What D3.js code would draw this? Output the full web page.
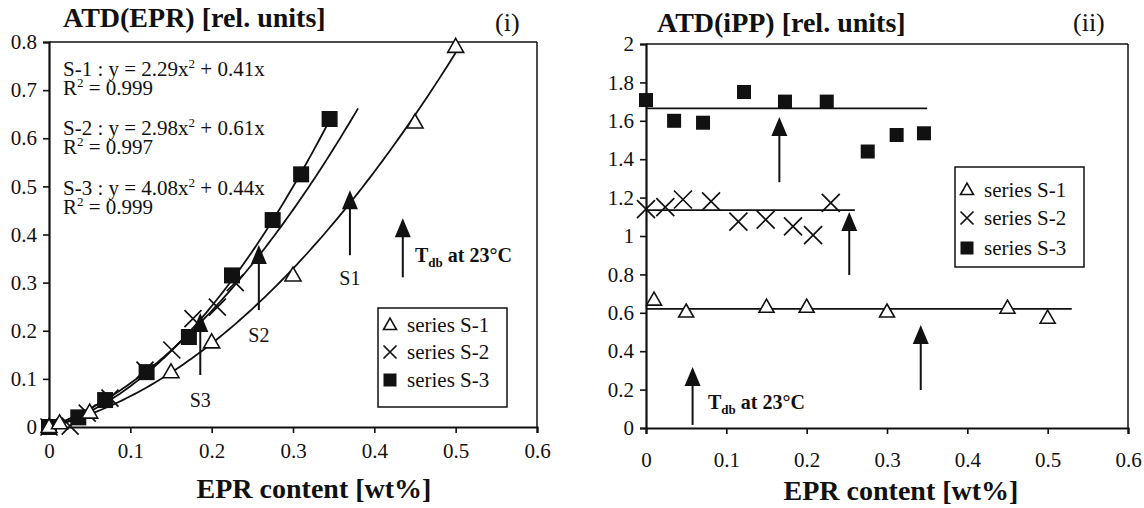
<!DOCTYPE html>
<html>
<head>
<meta charset="utf-8">
<script src="https://cdn.jsdelivr.net/npm/d3@7"></script>
<style>
  html, body { margin: 0; padding: 0; background: #fff; }
  svg { display: block; }
  text { font-family: "Liberation Serif", "Times New Roman", Times, "DejaVu Serif", "Noto Serif", serif; fill: #111; }
</style>
</head>
<body>
<svg id="chart" width="1144" height="508"></svg>
<script>
// ---------- panel (i): ATD(EPR) vs EPR content ----------
const epr_s1_x = [0, 0.013, 0.05, 0.15, 0.2, 0.3, 0.45, 0.5];
const epr_s1_y = [0, 0.008, 0.03, 0.114, 0.176, 0.315, 0.633, 0.79];
const epr_s2_x = [0, 0.026, 0.047, 0.075, 0.118, 0.151, 0.177, 0.207, 0.229];
const epr_s2_y = [0, 0.002, 0.029, 0.06, 0.118, 0.16, 0.225, 0.249, 0.3];
const epr_s3_x = [0, 0.036, 0.069, 0.12, 0.172, 0.225, 0.275, 0.31, 0.345];
const epr_s3_y = [0, 0.02, 0.056, 0.114, 0.187, 0.315, 0.43, 0.525, 0.64];

// quadratic fits y = a x^2 + b x, and the x-range each trend line covers
const fitNames = ["S-1", "S-2", "S-3"];
const fitA = [2.29, 2.98, 4.08];
const fitB = [0.41, 0.61, 0.44];
const fitR2 = ["0.999", "0.997", "0.999"];
const fitXmax = [0.5, 0.38, 0.345];

// T_db arrows in panel (i)
const eprArrowLabel = ["S1", "S2", "S3"];
const eprArrowX = [0.37, 0.258, 0.186];
const eprArrowTip = [0.492, 0.378, 0.237];
const eprArrowTail = [0.357, 0.243, 0.108];
const eprArrowLabelY = [0.309, 0.191, 0.056];

// ---------- panel (ii): ATD(iPP) vs EPR content ----------
const ipp_s1_x = [0.01, 0.05, 0.15, 0.2, 0.3, 0.45, 0.5];
const ipp_s1_y = [0.667, 0.605, 0.63, 0.63, 0.605, 0.625, 0.573];
const ipp_s2_x = [0, 0.024, 0.046, 0.081, 0.115, 0.149, 0.183, 0.208, 0.23];
const ipp_s2_y = [1.14, 1.15, 1.19, 1.18, 1.075, 1.085, 1.05, 1.005, 1.172];
const ipp_s3_x = [0, 0.035, 0.071, 0.122, 0.173, 0.225, 0.276, 0.312, 0.346];
const ipp_s3_y = [1.708, 1.6, 1.59, 1.75, 1.7, 1.7, 1.44, 1.526, 1.535];

// mean levels and their x-extents
const ippMean = [0.62, 1.135, 1.665];
const ippMeanXmax = [0.53, 0.26, 0.35];

// T_db arrows in panel (ii)
const ippArrowX = [0.342, 0.253, 0.166];
const ippArrowTip = [0.536, 1.125, 1.62];
const ippArrowTail = [0.198, 0.797, 1.28];

// axes
const xTicks = [0, 0.1, 0.2, 0.3, 0.4, 0.5, 0.6];
const xTickLabels = ["0", "0.1", "0.2", "0.3", "0.4", "0.5", "0.6"];
const eprYTicks = [0, 0.1, 0.2, 0.3, 0.4, 0.5, 0.6, 0.7, 0.8];
const eprYTickLabels = ["0", "0.1", "0.2", "0.3", "0.4", "0.5", "0.6", "0.7", "0.8"];
const ippYTicks = [0, 0.2, 0.4, 0.6, 0.8, 1, 1.2, 1.4, 1.6, 1.8, 2];
const ippYTickLabels = ["0", "0.2", "0.4", "0.6", "0.8", "1", "1.2", "1.4", "1.6", "1.8", "2"];
const legendLabels = ["series S-1", "series S-2", "series S-3"];

const FONT = '"Liberation Serif", "Times New Roman", Times, "DejaVu Serif", "Noto Serif", serif';
const svg = d3.select("#chart");
svg.append("rect").attr("width", 1144).attr("height", 508).attr("fill", "#fff");

const INK = "#111";

// ---------- marker helpers ----------
function openTriangle(g, cx, cy, w) {
  const h = w * 0.87;
  g.append("path")
    .attr("d", `M${cx},${cy - h * 0.6} L${cx + w / 2},${cy + h * 0.4} L${cx - w / 2},${cy + h * 0.4} Z`)
    .attr("fill", "#fff").attr("stroke", INK).attr("stroke-width", 1.6);
}
function cross(g, cx, cy, s) {
  g.append("path")
    .attr("d", `M${cx - s},${cy - s} L${cx + s},${cy + s} M${cx - s},${cy + s} L${cx + s},${cy - s}`)
    .attr("stroke", INK).attr("stroke-width", 1.7).attr("fill", "none");
}
function square(g, cx, cy, s) {
  g.append("rect").attr("x", cx - s / 2).attr("y", cy - s / 2)
    .attr("width", s).attr("height", s).attr("fill", INK);
}
function arrow(g, x, yTip, yTail) {
  g.append("line").attr("x1", x).attr("x2", x).attr("y1", yTip + 10).attr("y2", yTail)
    .attr("stroke", INK).attr("stroke-width", 2);
  g.append("path")
    .attr("d", `M${x},${yTip} L${x + 8},${yTip + 19} L${x - 8},${yTip + 19} Z`)
    .attr("fill", INK);
}
function tdbLabel(g, x, y) {
  const t = g.append("text").attr("x", x).attr("y", y)
    .attr("font-size", 20).attr("font-weight", "bold");
  t.append("tspan").text("T");
  t.append("tspan").attr("font-size", 13).attr("dy", 5).text("db");
  t.append("tspan").attr("dy", -5).text(" at 23°C");
}

// ---------- frame + axes ----------
function frame(g, x, y, yTicks, yLabels, xLabelY, tickFont) {
  const [x0, x1] = x.range();
  const [y0, y1] = y.range();
  g.append("line").attr("x1", x0).attr("x2", x1).attr("y1", y1).attr("y2", y1)
    .attr("stroke", INK).attr("stroke-width", 1.5);
  g.append("line").attr("x1", x1).attr("x2", x1).attr("y1", y1).attr("y2", y0)
    .attr("stroke", INK).attr("stroke-width", 1.5);

  const ya = g.append("g").attr("transform", `translate(${x0},0)`)
    .call(d3.axisLeft(y).tickValues(yTicks).tickSize(6).tickPadding(6)
      .tickFormat((d, i) => yLabels[i]));
  const xa = g.append("g").attr("transform", `translate(0,${y0})`)
    .call(d3.axisBottom(x).tickValues(xTicks).tickSize(6).tickPadding(xLabelY)
      .tickFormat((d, i) => xTickLabels[i]));
  [ya, xa].forEach(a => {
    a.attr("font-family", FONT);
    a.select(".domain").attr("stroke", INK).attr("stroke-width", 2.2);
    a.selectAll(".tick line").attr("stroke", INK).attr("stroke-width", 1.6);
    a.selectAll(".tick text").attr("font-family", FONT)
      .attr("font-size", tickFont).attr("fill", INK);
  });
}

// =====================================================================
// Panel (i)
// =====================================================================
const g1 = svg.append("g");
const x1 = d3.scaleLinear().domain([0, 0.6]).range([49, 537]);
const y1 = d3.scaleLinear().domain([0, 0.8]).range([427, 42]);
frame(g1, x1, y1, eprYTicks, eprYTickLabels, 10, 21);

g1.append("text").attr("x", 63).attr("y", 27).attr("font-size", 28).attr("font-weight", "bold")
  .text("ATD(EPR) [rel. units]");
g1.append("text").attr("x", 495).attr("y", 31).attr("font-size", 26).text("(i)");
g1.append("text").attr("x", 314).attr("y", 498).attr("text-anchor", "middle")
  .attr("font-size", 28).attr("font-weight", "bold").text("EPR content [wt%]");

// fit equations
const eqBase = [[76, 95], [135, 154], [195, 214]];
fitNames.forEach((n, i) => {
  const t = g1.append("text").attr("x", 63).attr("y", eqBase[i][0]).attr("font-size", 21);
  t.append("tspan").text(`${n} : y = ${fitA[i].toFixed(2)}x`);
  t.append("tspan").attr("font-size", 13).attr("dy", -8).text("2");
  t.append("tspan").attr("dy", 8).text(` + ${fitB[i].toFixed(2)}x`);
  const r = g1.append("text").attr("x", 63).attr("y", eqBase[i][1]).attr("font-size", 21);
  r.append("tspan").text("R");
  r.append("tspan").attr("font-size", 13).attr("dy", -8).text("2");
  r.append("tspan").attr("dy", 8).text(` = ${fitR2[i]}`);
});

// trend curves
const curve = d3.line().x(d => x1(d[0])).y(d => y1(d[1]));
fitA.forEach((a, i) => {
  const pts = d3.range(0, 101).map(k => {
    const xv = fitXmax[i] * k / 100;
    return [xv, a * xv * xv + fitB[i] * xv];
  });
  g1.append("path").attr("d", curve(pts)).attr("fill", "none")
    .attr("stroke", INK).attr("stroke-width", 1.8);
});

// data points
epr_s3_x.forEach((xv, i) => square(g1, x1(xv), y1(epr_s3_y[i]), 16));
epr_s2_x.forEach((xv, i) => cross(g1, x1(xv), y1(epr_s2_y[i]), 8.5));
epr_s1_x.forEach((xv, i) => openTriangle(g1, x1(xv), y1(epr_s1_y[i]), 16));

// T_db arrows with series labels
eprArrowX.forEach((xv, i) => {
  arrow(g1, x1(xv), y1(eprArrowTip[i]), y1(eprArrowTail[i]));
  g1.append("text").attr("x", x1(xv)).attr("y", y1(eprArrowLabelY[i]) + 7)
    .attr("text-anchor", "middle").attr("font-size", 20).text(eprArrowLabel[i]);
});

// arrow key
arrow(g1, x1(0.435), y1(0.434), y1(0.311));
tdbLabel(g1, 415, 262);

// legend
function legend(g, bx, by, rows) {
  g.append("rect").attr("x", bx).attr("y", by).attr("width", 129).attr("height", rows[3])
    .attr("fill", "#fff").attr("stroke", INK).attr("stroke-width", 1.5);
  const mx = bx + 12;
  openTriangle(g, mx, by + rows[0], 13);
  cross(g, mx, by + rows[1], 6.5);
  square(g, mx, by + rows[2], 13);
  legendLabels.forEach((l, i) => {
    g.append("text").attr("x", bx + 29).attr("y", by + rows[i] + 7)
      .attr("font-size", 21).text(l);
  });
}
legend(g1, 378, 308, [17, 44, 72, 99]);

// =====================================================================
// Panel (ii)
// =====================================================================
const g2 = svg.append("g");
const x2 = d3.scaleLinear().domain([0, 0.6]).range([646, 1128]);
const y2 = d3.scaleLinear().domain([0, 2]).range([428, 44]);
frame(g2, x2, y2, ippYTicks, ippYTickLabels, 18, 21);

g2.append("text").attr("x", 657).attr("y", 32).attr("font-size", 28).attr("font-weight", "bold")
  .text("ATD(iPP) [rel. units]");
g2.append("text").attr("x", 1073).attr("y", 31).attr("font-size", 26).text("(ii)");
g2.append("text").attr("x", 901).attr("y", 500).attr("text-anchor", "middle")
  .attr("font-size", 28).attr("font-weight", "bold").text("EPR content [wt%]");

// mean levels
ippMean.forEach((m, i) => {
  g2.append("line").attr("x1", x2(0)).attr("x2", x2(ippMeanXmax[i]))
    .attr("y1", y2(m)).attr("y2", y2(m)).attr("stroke", INK).attr("stroke-width", 1.8);
});

ipp_s3_x.forEach((xv, i) => square(g2, x2(xv), y2(ipp_s3_y[i]), 14));
ipp_s2_x.forEach((xv, i) => cross(g2, x2(xv), y2(ipp_s2_y[i]), 9));
ipp_s1_x.forEach((xv, i) => openTriangle(g2, x2(xv), y2(ipp_s1_y[i]), 15));

ippArrowX.forEach((xv, i) => arrow(g2, x2(xv), y2(ippArrowTip[i]), y2(ippArrowTail[i])));

// arrow key
arrow(g2, x2(0.058), y2(0.318), y2(0.016));
tdbLabel(g2, 708, 409);

legend(g2, 955, 167, [23, 51, 81, 100]);
</script>
</body>
</html>
